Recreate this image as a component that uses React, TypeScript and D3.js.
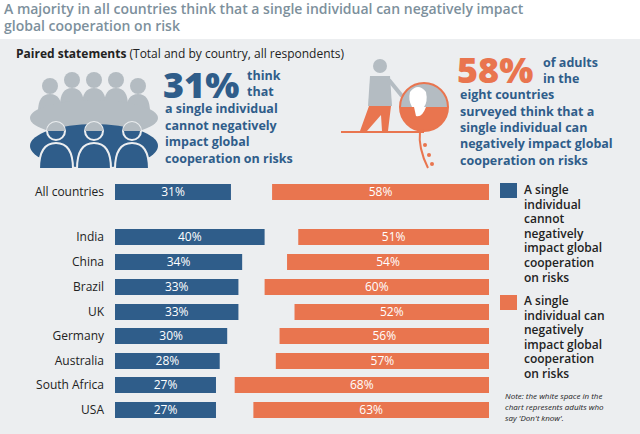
import * as d3 from "d3";

const countries = ["All countries", "India", "China", "Brazil", "UK", "Germany", "Australia", "South Africa", "USA"];
const cannot = [31, 40, 34, 33, 33, 30, 28, 27, 27];
const can = [58, 51, 54, 60, 52, 56, 57, 68, 63];
const rowY = [192, 237, 262, 287, 312, 336, 361, 385, 410];

const BLUE = "#2f5d8a";
const ORANGE = "#e9754f";
const GREY = "#b4bcc2";
const BG = "#eceef0";
const FONT = "'Open Sans', sans-serif";

export default function App() {
  const x = d3.scaleLinear().domain([0, 100]).range([115, 489]);
  const bh = 16;

  return (
    <svg width={640} height={434} style={{ position: "absolute", left: 0, top: 0 }} fontFamily={FONT}>
      <rect width={640} height={434} fill="#fff" />
      <text x={4} y={14} fontSize={14} fontWeight={600} fill="#7d909c">A majority in all countries think that a single individual can negatively impact</text>
      <text x={4} y={31} fontSize={14} fontWeight={600} fill="#7d909c">global cooperation on risk</text>
      <rect x={0} y={39} width={640} height={395} fill={BG} />
      <text x={16} y={58} fontSize={12} fill="#222"><tspan fontWeight={700}>Paired statements</tspan> (Total and by country, all respondents)</text>

      {/* group icon */}
      <g>
        {[50, 72, 94, 116, 138].map((cx, i) => (
          <g key={"b" + i}>
            <circle cx={cx} cy={i === 0 || i === 4 ? 86 : 80} r={8} fill={GREY} />
            <path d={`M${cx - 12},${i === 0 || i === 4 ? 112 : 106} Q${cx - 12},${i === 0 || i === 4 ? 94 : 88} ${cx},${i === 0 || i === 4 ? 94 : 88} Q${cx + 12},${i === 0 || i === 4 ? 94 : 88} ${cx + 12},${i === 0 || i === 4 ? 112 : 106} Z`} fill={GREY} />
          </g>
        ))}
        <ellipse cx={94} cy={118} rx={64} ry={18} fill={GREY} />
        <ellipse cx={94} cy={146} rx={64} ry={22} fill={BLUE} />
        {[56, 94, 132].map((cx, i) => (
          <g key={"f" + i}>
            <circle cx={cx} cy={131} r={9} fill={BLUE} stroke={BG} strokeWidth={2} />
            <path d={`M${cx},122 A9,9 0 0,1 ${cx + 9},131 L${cx - 9},131 A9,9 0 0,1 ${cx},122`} fill={GREY} />
            <path d={`M${cx - 17},169 Q${cx - 17},143 ${cx},143 Q${cx + 17},143 ${cx + 17},169 Z`} fill={BLUE} stroke={BG} strokeWidth={2} />
          </g>
        ))}
      </g>

      <text x={163} y={98} fontSize={36} fontWeight={800} fill={BLUE}>31%</text>
      <g fontSize={12.5} fontWeight={700} fill={BLUE}>
        <text x={247} y={80}>think</text>
        <text x={247} y={96}>that</text>
        <text x={165} y={113}>a single individual</text>
        <text x={165} y={130}>cannot negatively</text>
        <text x={165} y={146}>impact global</text>
        <text x={165} y={163}>cooperation on risks</text>
      </g>

      {/* person & globe icon */}
      <g>
        <line x1={341} y1={132} x2={424} y2={132} stroke={ORANGE} strokeWidth={2} />
        <circle cx={380} cy={66} r={7} fill={GREY} />
        <path d="M370,76 L390,76 L392,106 L368,106 Z" fill={GREY} />
        <path d="M389,80 L402,96" stroke={GREY} strokeWidth={4} />
        <path d="M369,106 L391,106 L388,131 L382,131 L381,115 L367,131 L360,131 Z" fill={ORANGE} />
        <path d="M400,107 A24,24 0 0,1 448,107 Z" fill={GREY} />
        <path d="M400,107 A24,24 0 0,0 448,107 Z" fill={ORANGE} />
        <path d="M410,92 Q418,82 426,92 Q428,102 424,107 L412,107 Q408,100 410,92 Z" fill="#fff" />
        <path d="M414,107 L426,107 Q422,118 416,116 Z" fill="#fff" />
        <circle cx={424} cy={107} r={24} fill="none" stroke={ORANGE} strokeWidth={2} />
        <path d="M420,131 Q418,148 428,168" stroke={ORANGE} strokeWidth={2} fill="none" />
        <circle cx={425} cy={145} r={2} fill={ORANGE} />
        <circle cx={429} cy={155} r={2} fill={ORANGE} />
        <circle cx={432} cy={164} r={2} fill={ORANGE} />
      </g>

      <text x={457} y={83} fontSize={36} fontWeight={800} fill={ORANGE}>58%</text>
      <g fontSize={12.5} fontWeight={700} fill={BLUE}>
        <text x={543} y={67}>of adults</text>
        <text x={543} y={83}>in the</text>
        <text x={460} y={99}>eight countries</text>
        <text x={460} y={116}>surveyed think that a</text>
        <text x={460} y={132}>single individual can</text>
        <text x={460} y={148}>negatively impact global</text>
        <text x={460} y={165}>cooperation on risks</text>
      </g>

      {countries.map((c, i) => (
        <g key={c} fontSize={12}>
          <text x={104} y={rowY[i] + 4} textAnchor="end" fill="#222">{c}</text>
          <rect x={x(0)} y={rowY[i] - bh / 2} width={x(cannot[i]) - x(0)} height={bh} fill={BLUE} />
          <text x={(x(0) + x(cannot[i])) / 2} y={rowY[i] + 4} textAnchor="middle" fill="#fff">{cannot[i]}%</text>
          <rect x={x(100 - can[i])} y={rowY[i] - bh / 2} width={x(100) - x(100 - can[i])} height={bh} fill={ORANGE} />
          <text x={(x(100 - can[i]) + x(100)) / 2} y={rowY[i] + 4} textAnchor="middle" fill="#fff">{can[i]}%</text>
        </g>
      ))}

      <g fontSize={12} fontWeight={600} fill="#222">
        <rect x={500} y={183} width={17} height={15} fill={BLUE} />
        {["A single", "individual", "cannot", "negatively", "impact global", "cooperation", "on risks"].map((t, i) => (
          <text key={t} x={524} y={194 + i * 14.6}>{t}</text>
        ))}
        <rect x={500} y={295} width={17} height={15} fill={ORANGE} />
        {["A single", "individual can", "negatively", "impact global", "cooperation", "on risks"].map((t, i) => (
          <text key={t} x={524} y={305 + i * 14.6}>{t}</text>
        ))}
      </g>
      <g fontSize={8} fontStyle="italic" fill="#222">
        <text x={505} y={399}>Note: the white space in the</text>
        <text x={505} y={410}>chart represents adults who</text>
        <text x={505} y={421}>say 'Don't know'.</text>
      </g>
    </svg>
  );
}
